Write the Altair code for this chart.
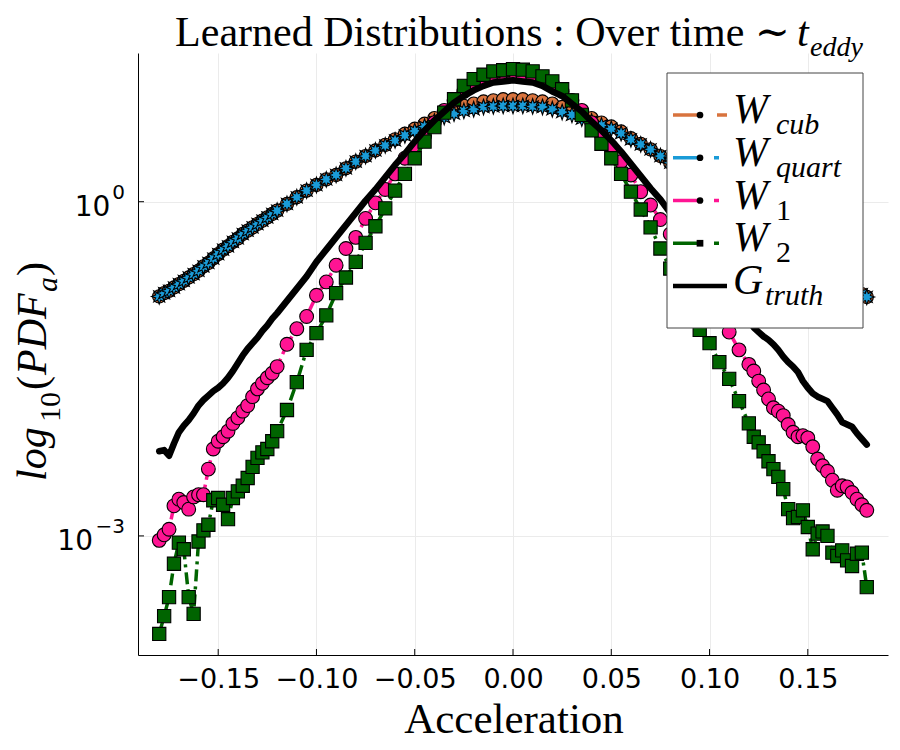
import math
import altair as alt
import pandas as pd

# ---------------- data (y values are log10(PDF)) ----------------
acc = [-0.18, -0.1775, -0.175, -0.1725, -0.17, -0.1675, -0.165, -0.1625, -0.16, -0.1575, -0.155, -0.1525,
       -0.15, -0.1475, -0.145, -0.1425, -0.14, -0.1375, -0.135, -0.1325, -0.13, -0.1275, -0.125, -0.1225,
       -0.12, -0.115, -0.11, -0.105, -0.10, -0.095, -0.09, -0.085, -0.08, -0.075, -0.07, -0.065, -0.06,
       -0.055, -0.05, -0.045, -0.04, -0.035, -0.03, -0.025, -0.02, -0.015, -0.01, -0.005, 0.0,
       0.005, 0.01, 0.015, 0.02, 0.025, 0.03, 0.035, 0.04, 0.045, 0.05, 0.055, 0.06, 0.065, 0.07, 0.075,
       0.08, 0.085, 0.09, 0.095, 0.10, 0.105, 0.11, 0.115, 0.12,
       0.1225, 0.125, 0.1275, 0.13, 0.1325, 0.135, 0.1375, 0.14, 0.1425, 0.145, 0.1475, 0.15,
       0.1525, 0.155, 0.1575, 0.16, 0.1625, 0.165, 0.1675, 0.17, 0.1725, 0.175, 0.1775, 0.18]

w_cub = [-0.85, -0.82, -0.80, -0.77, -0.74, -0.71, -0.68, -0.65, -0.62, -0.58, -0.55, -0.51,
         -0.47, -0.43, -0.40, -0.36, -0.33, -0.29, -0.26, -0.23, -0.20, -0.17, -0.14, -0.11,
         -0.08, -0.02, 0.04, 0.10, 0.15, 0.20, 0.24, 0.30, 0.36, 0.41, 0.46, 0.51, 0.56, 0.61, 0.655,
         0.70, 0.75, 0.80, 0.83, 0.86, 0.88, 0.90, 0.91, 0.92, 0.92,
         0.92, 0.91, 0.90, 0.88, 0.85, 0.82, 0.78, 0.75, 0.71, 0.675, 0.63, 0.57, 0.52, 0.47, 0.41,
         0.35, 0.30, 0.25, 0.20, 0.15, 0.10, 0.04, -0.02, -0.09,
         -0.115, -0.146, -0.178, -0.209, -0.241, -0.272, -0.303, -0.335, -0.371, -0.407, -0.443, -0.478,
         -0.514, -0.550, -0.586, -0.622, -0.654, -0.685, -0.716, -0.748, -0.775, -0.802, -0.829, -0.855]

w_quart = [-0.85, -0.82, -0.80, -0.77, -0.74, -0.71, -0.68, -0.65, -0.62, -0.58, -0.55, -0.51,
           -0.47, -0.43, -0.40, -0.36, -0.33, -0.29, -0.26, -0.23, -0.20, -0.17, -0.14, -0.11,
           -0.08, -0.02, 0.04, 0.10, 0.15, 0.20, 0.24, 0.30, 0.36, 0.41, 0.46, 0.505, 0.55, 0.595, 0.635,
           0.675, 0.72, 0.76, 0.79, 0.815, 0.83, 0.85, 0.855, 0.86, 0.86,
           0.86, 0.855, 0.85, 0.83, 0.805, 0.78, 0.745, 0.72, 0.685, 0.655, 0.615, 0.56, 0.515, 0.47, 0.41,
           0.35, 0.30, 0.25, 0.20, 0.15, 0.10, 0.04, -0.02, -0.09,
           -0.115, -0.146, -0.178, -0.209, -0.241, -0.272, -0.303, -0.335, -0.371, -0.407, -0.443, -0.478,
           -0.514, -0.550, -0.586, -0.622, -0.654, -0.685, -0.716, -0.748, -0.775, -0.802, -0.829, -0.855]

w_1 = [-3.04, -2.99, -2.94, -2.73, -2.67, -2.70, -2.76, -2.65, -2.63, -2.63, -2.40, -2.22,
       -2.15, -2.11, -2.06, -1.99, -1.94, -1.88, -1.83, -1.75, -1.68, -1.63, -1.58, -1.54,
       -1.48, -1.28, -1.14, -1.03, -0.84, -0.72, -0.57, -0.42, -0.32, -0.15, -0.01, 0.11, 0.25, 0.39, 0.48,
       0.59, 0.71, 0.82, 0.91, 0.99, 1.06, 1.09, 1.12, 1.135, 1.14,
       1.135, 1.12, 1.09, 1.06, 0.99, 0.91, 0.82, 0.71, 0.60, 0.49, 0.36, 0.24, 0.09, -0.03, -0.16,
       -0.29, -0.43, -0.58, -0.74, -0.88, -1.03, -1.17, -1.33, -1.46,
       -1.52, -1.61, -1.69, -1.77, -1.85, -1.88, -1.92, -2.00, -2.07, -2.11, -2.10, -2.12,
       -2.20, -2.31, -2.37, -2.42, -2.50, -2.59, -2.55, -2.56, -2.61, -2.67, -2.72, -2.77]

w_2 = [-3.88, -3.72, -3.55, -3.25, -3.06, -3.12, -3.55, -3.70, -3.05, -2.95, -2.90, -2.68,
       -2.66, -2.72, -2.85, -2.66, -2.60, -2.55, -2.48, -2.38, -2.30, -2.25, -2.22, -2.15,
       -2.06, -1.87, -1.62, -1.33, -1.18, -1.02, -0.82, -0.68, -0.54, -0.37, -0.22, -0.06, 0.10, 0.25, 0.39,
       0.54, 0.67, 0.80, 0.92, 1.04, 1.10, 1.14, 1.17, 1.18, 1.19,
       1.185, 1.17, 1.125, 1.08, 1.01, 0.91, 0.78, 0.64, 0.52, 0.39, 0.25, 0.09, -0.07, -0.23, -0.42,
       -0.60, -0.78, -0.96, -1.15, -1.27, -1.44, -1.59, -1.79, -1.99,
       -2.11, -2.16, -2.24, -2.33, -2.40, -2.47, -2.58, -2.76, -2.84, -2.83, -2.77, -2.92,
       -3.12, -2.98, -2.96, -3.00, -3.15, -3.18, -3.13, -3.22, -3.27, -3.16, -3.15, -3.46]

g_truth = [-2.24, -2.23, -2.28, -2.17, -2.07, -2.01, -1.96, -1.90, -1.83, -1.78, -1.74, -1.70,
           -1.67, -1.63, -1.58, -1.52, -1.45, -1.38, -1.32, -1.27, -1.22, -1.16, -1.11, -1.05,
           -1.00, -0.89, -0.78, -0.67, -0.54, -0.43, -0.32, -0.21, -0.10, 0.01, 0.11, 0.22, 0.33, 0.43, 0.54,
           0.64, 0.73, 0.81, 0.89, 0.95, 1.00, 1.04, 1.07, 1.08, 1.09,
           1.08, 1.07, 1.04, 0.99, 0.95, 0.88, 0.81, 0.72, 0.64, 0.55, 0.45, 0.34, 0.23, 0.12, 0.02,
           -0.10, -0.22, -0.34, -0.46, -0.58, -0.70, -0.82, -0.94, -1.06,
           -1.13, -1.17, -1.21, -1.24, -1.28, -1.33, -1.39, -1.44, -1.48, -1.53, -1.61, -1.67,
           -1.72, -1.75, -1.77, -1.79, -1.85, -1.91, -1.98, -2.00, -2.02, -2.08, -2.13, -2.18]

x_ticks = [-0.15, -0.10, -0.05, 0.0, 0.05, 0.10, 0.15]
y_ticks = [0, -3]
y_tick_base = "10"
y_tick_exp = ["0", "−3"]

legend_main = ["W", "W", "W", "W", "G"]
legend_sub = ["cub", "quart", "1", "2", "truth"]

title_main = "Learned Distributions :  Over time ∼"
title_var = "t"
title_sub = "eddy"
x_title = "Acceleration"

# ---------------- styling ----------------
W, H = 750, 602
SERIF = "Liberation Serif, DejaVu Serif, serif"
SANS = "DejaVu Sans"

c_cub = "#D8733E"
c_quart = "#1A9BD7"
c_w1 = "#FF1493"
c_w2 = "#006400"

x_scale = alt.Scale(domain=[-0.1908, 0.1908], nice=False, zero=False)
y_scale = alt.Scale(domain=[-4.069, 1.335], nice=False, zero=False)

x_axis = alt.Axis(values=x_ticks, format=".2f", title=None, grid=True, ticks=False,
                  labelPadding=11, domainColor="black", domainWidth=1,
                  labelFont=SANS, labelFontSize=27, labelColor="black",
                  gridColor="#ebebeb", gridWidth=1, labelOverlap=False, labelFlush=False)
y_axis = alt.Axis(values=y_ticks, labels=False, title=None, grid=True, ticks=False,
                  domainColor="black", domainWidth=1,
                  gridColor="#ebebeb", gridWidth=1)

X = alt.X("acc:Q", scale=x_scale, axis=x_axis)
Y = alt.Y("v:Q", scale=y_scale, axis=y_axis)

# 8-pointed star marker (unit box)
pts = []
for k in range(16):
    r = 1.0 if k % 2 == 0 else 0.5
    a = math.pi * k / 8 - math.pi / 2
    pts.append(f"{r * math.cos(a):.3f},{r * math.sin(a):.3f}")
star8 = "M" + "L".join(pts) + "Z"

def series_df(vals):
    return pd.DataFrame({"acc": acc, "v": vals})

layers = []
series = [
    (w_cub, c_cub, [12, 7], "circle", 175),
    (w_quart, c_quart, [12, 5, 3, 5], star8, 240),
    (w_1, c_w1, [12, 5, 3, 5], "circle", 190),
    (w_2, c_w2, [12, 5, 3, 5], "square", 175),
]
for vals, col, dash, shape, size in series:
    d = series_df(vals)
    layers.append(alt.Chart(d).mark_line(color=col, strokeWidth=3.5, strokeDash=dash).encode(x=X, y=Y))
    layers.append(alt.Chart(d).mark_point(shape=shape, filled=True, color=col, fill=col, stroke="black",
                                          strokeWidth=1.1, size=size, opacity=1).encode(x=X, y=Y))

layers.append(alt.Chart(series_df(g_truth)).mark_line(color="black", strokeWidth=6.5, strokeCap="round",
                                                      strokeJoin="round").encode(x=X, y=Y))

# inward ticks
layers.append(alt.Chart(pd.DataFrame({"acc": x_ticks})).mark_rule(color="black", strokeWidth=1).encode(
    x=X, y=alt.value(H), y2=alt.value(H - 6)))
layers.append(alt.Chart(pd.DataFrame({"v": y_ticks})).mark_rule(color="black", strokeWidth=1).encode(
    y=Y, x=alt.value(0), x2=alt.value(6)))

# y tick labels: "10" with a superscript exponent, placed through the y scale
for v, e in zip(y_ticks, y_tick_exp):
    dtick = pd.DataFrame({"v": [v]})
    exp_w = 12.7 if len(e) == 1 else 30.0
    layers.append(alt.Chart(dtick).mark_text(text=e, font=SANS, fontSize=20, align="right",
                                             baseline="alphabetic", dy=-3, color="black").encode(
        x=alt.value(-13), y=Y))
    layers.append(alt.Chart(dtick).mark_text(text=y_tick_base, font=SANS, fontSize=28, align="right",
                                             baseline="alphabetic", dy=14, color="black").encode(
        x=alt.value(-15 - exp_w), y=Y))

one = pd.DataFrame({"k": [0]})

def txt(s, x, y, size, style="normal", align="left", angle=0, font=SERIF):
    props = dict(text=s, font=font, fontSize=size, fontStyle=style, align=align,
                 baseline="alphabetic", color="black")
    if angle:
        props["angle"] = angle
    return alt.Chart(one).mark_text(**props).encode(x=alt.value(x), y=alt.value(y))

def hrule(x1, x2, y, col, w):
    return alt.Chart(one).mark_rule(color=col, strokeWidth=w).encode(
        x=alt.value(x1), x2=alt.value(x2), y=alt.value(y))

# legend box
layers.append(alt.Chart(one).mark_rect(fill="white", stroke="#444444", strokeWidth=1).encode(
    x=alt.value(529), x2=alt.value(725), y=alt.value(20), y2=alt.value(275)))

leg_cols = [c_cub, c_quart, c_w1, c_w2, "black"]
for i, (m, s, col) in enumerate(zip(legend_main, legend_sub, leg_cols)):
    ly = 62 + 42.75 * i
    if m == "G":
        layers.append(hrule(535, 589, ly, "black", 4.5))
        layers.append(txt(m, 595, ly + 8, 42, "italic"))
        layers.append(txt(s, 627, ly + 19, 30, "italic"))
    else:
        layers.append(hrule(535, 562, ly, col, 3.5))
        if i == 0:
            layers.append(hrule(579, 589, ly, col, 3.5))
        else:
            layers.append(hrule(576, 581, ly, col, 3.5))
        shape = "square" if s == "2" else "circle"
        layers.append(alt.Chart(one).mark_point(shape=shape, filled=True, color="black", size=45,
                                                opacity=1).encode(x=alt.value(562), y=alt.value(ly)))
        layers.append(txt(m, 595, ly + 8, 42, "italic"))
        layers.append(txt(s, 638, ly + 19, 30, "normal" if s.isdigit() else "italic"))

# title
layers.append(txt(title_main, 652, -7.5, 42, "normal", align="right"))
layers.append(txt(title_var, 659, -7.5, 42, "italic"))
layers.append(txt(title_sub, 672, 2.5, 28, "italic"))

# x title
layers.append(txt(x_title, 376, 680, 43, "normal", align="center"))

# y title pieces (rotated)
layers.append(txt("log", -92.5, 428, 42, "italic", angle=270))
layers.append(txt("10", -78, 369, 30, "normal", angle=270))
layers.append(txt("(", -92.5, 337, 42, "normal", angle=270))
layers.append(txt("PDF", -92.5, 322, 42, "italic", angle=270))
layers.append(txt("a", -81, 239, 30, "italic", angle=270))
layers.append(txt(")", -92.5, 223, 42, "normal", angle=270))

chart = alt.layer(*layers).properties(
    width=W, height=H,
    autosize=alt.AutoSizeParams(type="none"),
    padding={"left": 130, "top": 45, "right": 4, "bottom": 92},
    background="white",
).configure_view(strokeWidth=0)

chart.save("out.html", embed_options={"renderer": "svg", "actions": False})
